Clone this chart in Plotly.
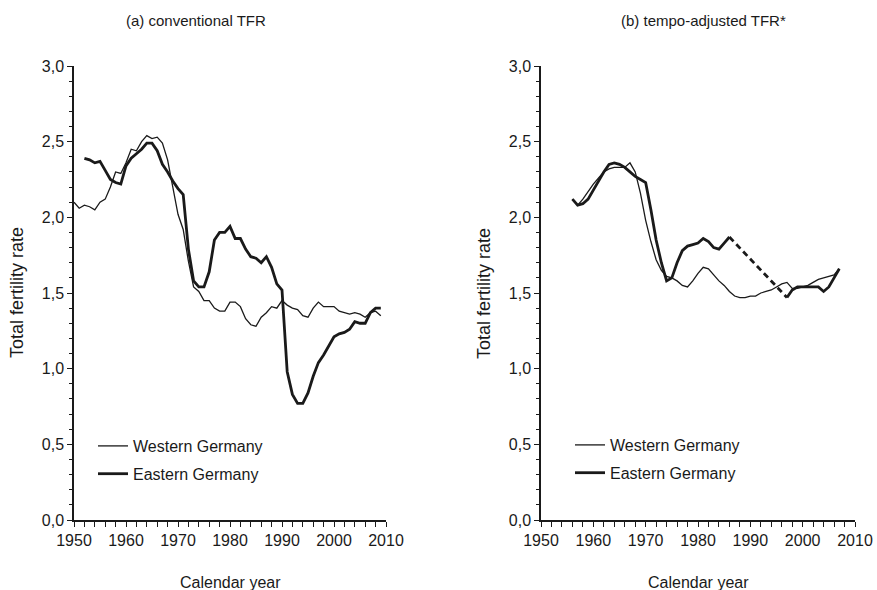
import plotly.graph_objects as go

# (a) conventional TFR
years_conv_w = list(range(1950, 2010))
tfr_conv_w = [2.10, 2.06, 2.08, 2.07, 2.05, 2.10, 2.12, 2.20, 2.30, 2.29,
              2.36, 2.45, 2.44, 2.50, 2.54, 2.52, 2.53, 2.49, 2.38, 2.21,
              2.02, 1.92, 1.71, 1.54, 1.51, 1.45, 1.45, 1.40, 1.38, 1.38,
              1.44, 1.44, 1.41, 1.33, 1.29, 1.28, 1.34, 1.37, 1.41, 1.40,
              1.45, 1.42, 1.40, 1.39, 1.35, 1.34, 1.40, 1.44, 1.41, 1.41,
              1.41, 1.38, 1.37, 1.36, 1.37, 1.36, 1.34, 1.37, 1.38, 1.35]

years_conv_e = list(range(1952, 2010))
tfr_conv_e = [2.39, 2.38, 2.36, 2.37, 2.31, 2.25, 2.23, 2.22,
              2.34, 2.39, 2.42, 2.45, 2.49, 2.49, 2.44, 2.35, 2.30, 2.24,
              2.19, 2.15, 1.79, 1.58, 1.54, 1.54, 1.64, 1.85, 1.90, 1.90,
              1.94, 1.86, 1.86, 1.79, 1.74, 1.73, 1.70, 1.74, 1.67, 1.56,
              1.52, 0.98, 0.83, 0.77, 0.77, 0.84, 0.95, 1.04, 1.09, 1.15,
              1.21, 1.23, 1.24, 1.26, 1.31, 1.30, 1.30, 1.37, 1.40, 1.40]

# (b) tempo-adjusted TFR
years_adj_w = list(range(1956, 2008))
tfr_adj_w = [2.12, 2.08, 2.12, 2.17, 2.22, 2.26, 2.30, 2.32, 2.33, 2.33,
             2.33, 2.36, 2.30, 2.16, 1.98, 1.84, 1.72, 1.65, 1.61, 1.60,
             1.58, 1.55, 1.54, 1.58, 1.63, 1.67, 1.66, 1.62, 1.58, 1.55,
             1.51, 1.48, 1.47, 1.47, 1.48, 1.48, 1.50, 1.51, 1.52, 1.54,
             1.56, 1.57, 1.53, 1.53, 1.54, 1.55, 1.57, 1.59, 1.60, 1.61,
             1.62, 1.66]

years_adj_e = list(range(1956, 1987))
tfr_adj_e = [2.12, 2.08, 2.09, 2.12, 2.18, 2.24, 2.30, 2.35, 2.36, 2.35,
             2.33, 2.30, 2.27, 2.25, 2.23, 2.05, 1.85, 1.70, 1.58, 1.60,
             1.70, 1.78, 1.81, 1.82, 1.83, 1.86, 1.84, 1.80, 1.79, 1.83,
             1.87]
years_adj_e_gap = [1986, 1997]
tfr_adj_e_gap = [1.87, 1.47]
years_adj_e2 = list(range(1997, 2008))
tfr_adj_e2 = [1.47, 1.52, 1.54, 1.54, 1.54, 1.54, 1.54, 1.51, 1.54, 1.60, 1.66]

x_tickvals = [1950, 1960, 1970, 1980, 1990, 2000, 2010]
y_tickvals = [0, 0.5, 1.0, 1.5, 2.0, 2.5, 3.0]
y_ticktext = ["0,0", "0,5", "1,0", "1,5", "2,0", "2,5", "3,0"]

FONT = "Arial, Liberation Sans, sans-serif"
INK = "#1a1a1a"
THIN = 1.3
THICK = 2.8

fig = go.Figure()

fig.add_trace(go.Scatter(x=years_conv_w, y=tfr_conv_w, mode="lines", name="Western Germany",
                         line=dict(color=INK, width=THIN), xaxis="x", yaxis="y",
                         legend="legend", legendgroup="w1"))
fig.add_trace(go.Scatter(x=years_conv_e, y=tfr_conv_e, mode="lines", name="Eastern Germany",
                         line=dict(color=INK, width=THICK), xaxis="x", yaxis="y",
                         legend="legend", legendgroup="e1"))

fig.add_trace(go.Scatter(x=years_adj_w, y=tfr_adj_w, mode="lines", name="Western Germany",
                         line=dict(color=INK, width=THIN), xaxis="x2", yaxis="y2",
                         legend="legend2", legendgroup="w2"))
fig.add_trace(go.Scatter(x=years_adj_e, y=tfr_adj_e, mode="lines", name="Eastern Germany",
                         line=dict(color=INK, width=THICK), xaxis="x2", yaxis="y2",
                         legend="legend2", legendgroup="e2"))
fig.add_trace(go.Scatter(x=years_adj_e_gap, y=tfr_adj_e_gap, mode="lines", showlegend=False,
                         line=dict(color=INK, width=THICK, dash="6px,4px"), xaxis="x2", yaxis="y2"))
fig.add_trace(go.Scatter(x=years_adj_e2, y=tfr_adj_e2, mode="lines", showlegend=False,
                         line=dict(color=INK, width=THICK), xaxis="x2", yaxis="y2"))

xaxis_common = dict(range=[1950, 2010], tickvals=x_tickvals, ticktext=[str(v) for v in x_tickvals],
                    showline=True, linecolor=INK, linewidth=1.5, ticks="outside", ticklen=5,
                    tickcolor=INK, tickwidth=1.2, showgrid=False, zeroline=False,
                    tickfont=dict(size=16, color=INK), automargin=False,
                    minor=dict(dtick=2, tick0=1950, ticks="outside", ticklen=5, tickcolor=INK,
                               tickwidth=1, showgrid=False))
yaxis_common = dict(range=[0, 3], tickvals=y_tickvals, ticktext=y_ticktext,
                    showline=True, linecolor=INK, linewidth=1.5, ticks="outside", ticklen=5,
                    tickcolor=INK, tickwidth=1.2, showgrid=False, zeroline=False,
                    tickfont=dict(size=16, color=INK), automargin=False,
                    minor=dict(dtick=0.1, tick0=0, ticks="outside", ticklen=3, tickcolor=INK,
                               tickwidth=1, showgrid=False))

legend_common = dict(xanchor="left", yanchor="top", bgcolor="rgba(0,0,0,0)",
                     font=dict(size=16, color=INK), tracegroupgap=4, itemwidth=30)


def label(text, x, y, size, angle=0):
    return dict(text=text, x=x / 877, y=1 - y / 590, xref="paper", yref="paper",
                showarrow=False, font=dict(size=size, color=INK), textangle=angle,
                xanchor="center", yanchor="middle")


fig.update_layout(
    width=877, height=590,
    margin=dict(l=0, r=0, t=0, b=0, autoexpand=False),
    paper_bgcolor="white", plot_bgcolor="white",
    font=dict(family=FONT, color=INK),
    showlegend=True,
    xaxis=dict(domain=[74 / 877, 386 / 877], anchor="y", **xaxis_common),
    yaxis=dict(domain=[1 - 520 / 590, 1 - 66 / 590], anchor="x", **yaxis_common),
    xaxis2=dict(domain=[541 / 877, 855 / 877], anchor="y2", **xaxis_common),
    yaxis2=dict(domain=[1 - 520 / 590, 1 - 66 / 590], anchor="x2", **yaxis_common),
    legend=dict(x=93 / 877, y=1 - 429 / 590, **legend_common),
    legend2=dict(x=570 / 877, y=1 - 428 / 590, **legend_common),
    annotations=[
        label("(a) conventional TFR", 196, 20, 15),
        label("(b) tempo-adjusted TFR*", 703, 20, 15),
        label("Calendar year", 230, 582, 16),
        label("Calendar year", 698, 582, 16),
        label("Total fertility rate", 17, 293, 18, -90),
        label("Total fertility rate", 484, 293, 18, -90),
    ],
)

fig.write_html("out.html", config={"displayModeBar": False},
               post_script="document.body.style.margin='0';")
